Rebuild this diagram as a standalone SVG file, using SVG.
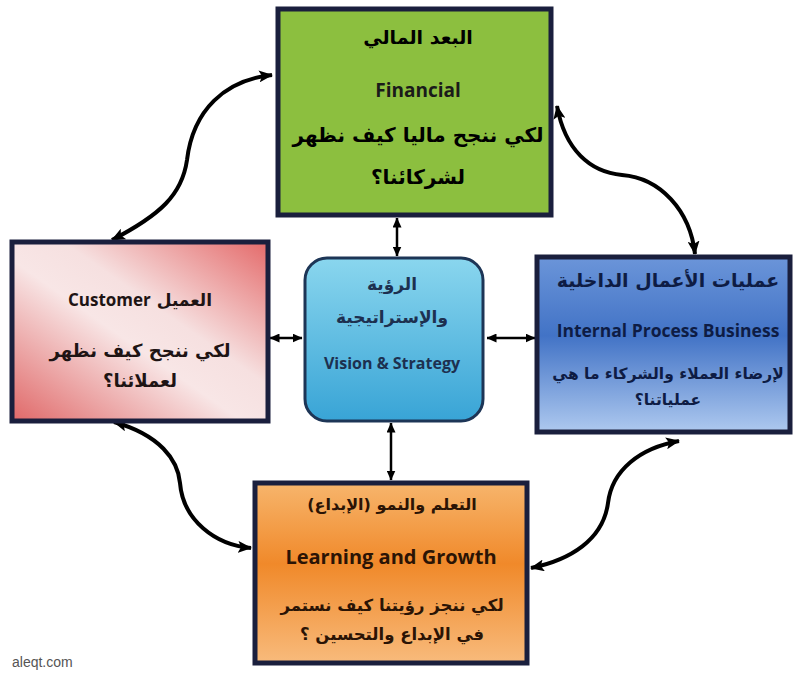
<svg xmlns="http://www.w3.org/2000/svg" width="795" height="675" viewBox="0 0 795 675">
<defs>
<marker id="ah" viewBox="0 0 14 12" refX="13" refY="6" markerWidth="14" markerHeight="12" markerUnits="userSpaceOnUse" orient="auto-start-reverse"><path d="M0,0 L14,6 L0,12 L3,6 Z" fill="#000"/></marker>
<marker id="as" viewBox="0 0 10 9" refX="9.5" refY="4.5" markerWidth="10" markerHeight="9" markerUnits="userSpaceOnUse" orient="auto-start-reverse"><path d="M0,0 L10,4.5 L0,9 Z" fill="#000"/></marker>
<linearGradient id="gCust" x1="0" y1="1" x2="1" y2="0"><stop offset="0" stop-color="#e06868"/><stop offset="0.45" stop-color="#f8e6e6"/><stop offset="0.6" stop-color="#f6e0e0"/><stop offset="1" stop-color="#e46a6a"/></linearGradient>
<linearGradient id="gCen" x1="0" y1="0" x2="0" y2="1"><stop offset="0" stop-color="#8ad6ee"/><stop offset="1" stop-color="#38a4d6"/></linearGradient>
<linearGradient id="gBlue" x1="0" y1="0" x2="0" y2="1"><stop offset="0" stop-color="#6b95d9"/><stop offset="0.45" stop-color="#4273c6"/><stop offset="1" stop-color="#aec9ef"/></linearGradient>
<linearGradient id="gOr" x1="0" y1="0" x2="0" y2="1"><stop offset="0" stop-color="#f7b56c"/><stop offset="0.45" stop-color="#f0892a"/><stop offset="1" stop-color="#f8bb7c"/></linearGradient>
</defs>
<style>
.box{stroke:#1a1f3d;stroke-width:5}
.ar{font-family:"DejaVu Sans",sans-serif;font-weight:bold;text-anchor:middle}
.en{font-family:"Open Sans","Liberation Sans",sans-serif;font-weight:bold;text-anchor:middle}
.c{fill:none;stroke:#000;stroke-width:4}
.s{fill:none;stroke:#000;stroke-width:2.5}
</style>
<rect width="795" height="675" fill="#fff"/>
<g id="connectors">
<path class="c" d="M112,240 C160,215 182,195 187,160 C193,110 225,80 272,75" marker-start="url(#ah)" marker-end="url(#ah)"/>
<path class="c" d="M557,106 C565,150 590,172 622,175 C660,178 690,210 695,254" marker-start="url(#ah)" marker-end="url(#ah)"/>
<path class="c" d="M114,422 C160,435 178,460 180,483 C183,520 215,545 251,548" marker-start="url(#ah)" marker-end="url(#ah)"/>
<path class="c" d="M679,441 C640,448 612,470 608,503 C603,540 570,560 531,568" marker-start="url(#ah)" marker-end="url(#ah)"/>
<path class="s" d="M397,218 L397,256" marker-start="url(#as)" marker-end="url(#as)"/>
<path class="s" d="M391,423 L391,480" marker-start="url(#as)" marker-end="url(#as)"/>
<path class="s" d="M270,338 L302,338" marker-start="url(#as)" marker-end="url(#as)"/>
<path class="s" d="M487,338 L535,338" marker-start="url(#as)" marker-end="url(#as)"/>
</g>
<g id="financial">
<rect class="box" x="278" y="9" width="273" height="206" fill="#8cbf3f"/>
<text class="ar" x="418" y="44" font-size="19" direction="rtl">البعد المالي</text>
<text class="en" x="418" y="97" font-size="19" fill="#1a1a1a">Financial</text>
<text class="ar" x="418" y="142" font-size="20" direction="rtl">لكي ننجح ماليا كيف نظهر</text>
<text class="ar" x="418" y="184" font-size="20" direction="rtl">لشركائنا؟</text>
</g>
<g id="customer">
<rect class="box" x="12" y="242" width="256" height="179" fill="url(#gCust)"/>
<text class="ar" x="140" y="306" font-size="17" direction="rtl" fill="#1e1414"><tspan>العميل</tspan> <tspan font-family="Open Sans, sans-serif">Customer</tspan></text>
<text class="ar" x="140" y="357" font-size="18" direction="rtl" fill="#1e1414">لكي ننجح كيف نظهر</text>
<text class="ar" x="140" y="387" font-size="18" direction="rtl" fill="#1e1414">لعملائنا؟</text>
</g>
<g id="vision">
<rect x="305" y="258" width="178" height="163" rx="22" fill="url(#gCen)" stroke="#1d3556" stroke-width="3"/>
<text class="ar" x="392" y="290" font-size="17" direction="rtl" fill="#1d3050">الرؤية</text>
<text class="ar" x="392" y="323" font-size="17" direction="rtl" fill="#1d3050">والإستراتيجية</text>
<text class="en" x="392" y="369" font-size="16" fill="#1d3050">Vision &amp; Strategy</text>
</g>
<g id="internal">
<rect class="box" x="537" y="257" width="253" height="175" fill="url(#gBlue)"/>
<text class="ar" x="668" y="287" font-size="19" direction="rtl" fill="#0e1c44">عمليات الأعمال الداخلية</text>
<text class="en" x="668" y="337" font-size="17.5" fill="#0e1c44">Internal Process Business</text>
<text class="ar" x="668" y="379" font-size="15.5" direction="rtl" fill="#0e1c44">لإرضاء العملاء والشركاء ما هي</text>
<text class="ar" x="668" y="405" font-size="15.5" direction="rtl" fill="#0e1c44">عملياتنا؟</text>
</g>
<g id="learning">
<rect class="box" x="255" y="483" width="272" height="180" fill="url(#gOr)"/>
<text class="ar" x="392" y="510" font-size="16" direction="rtl" fill="#2b1405">التعلم والنمو (الإبداع)</text>
<text class="en" x="391" y="564" font-size="20" fill="#2b1405">Learning and Growth</text>
<text class="ar" x="392" y="611" font-size="16.5" direction="rtl" fill="#2b1405">لكي ننجز رؤيتنا كيف نستمر</text>
<text class="ar" x="392" y="640" font-size="16.5" direction="rtl" fill="#2b1405">في الإبداع والتحسين ؟</text>
</g>
<text x="12" y="667" font-family="Liberation Sans, sans-serif" font-size="14" fill="#555">aleqt.com</text>
</svg>
